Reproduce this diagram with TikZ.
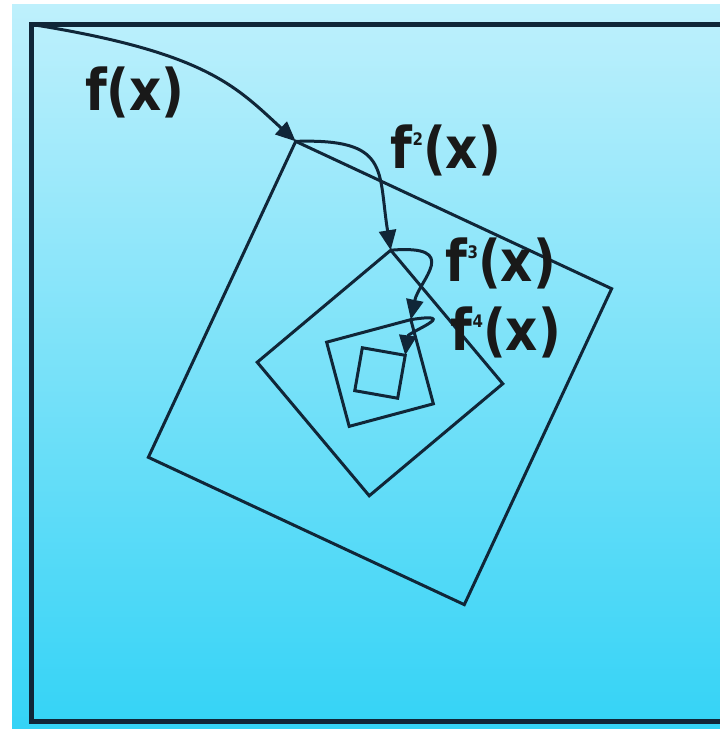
\documentclass[tikz,border=0pt]{standalone}
\usepackage{fontspec}
\setmainfont{DejaVu Sans}
\usetikzlibrary{arrows.meta}
\definecolor{tinta}{RGB}{16,38,56}
\definecolor{cielo}{RGB}{190,240,252}
\definecolor{mar}{RGB}{52,211,246}
\newcommand{\potencia}[1]{f\raisebox{20pt}{\fontsize{15}{15}\selectfont #1}(x)}

\begin{document}
\begin{tikzpicture}[x=1pt, y=1pt, >={Triangle[length=20pt,width=17pt]},
    linea/.style={draw=tinta, line width=3pt},
    flecha/.style={linea, ->},
    rotulo/.style={font=\fontsize{50}{50}\selectfont\bfseries, text=black!90, inner sep=0pt}]

    % 0. Fondo degradado
    \useasboundingbox (0,0) rectangle (720,729);
    \fill[white] (0,0) rectangle (720,729);
    \shade[top color=cielo, bottom color=mar] (12,0) rectangle (720,724);
    \clip (0,0) rectangle (720,729);

    % 1. Cuadrados contraidos (el marco es el cuadrado 0)
    \coordinate (c) at (380,356);
    \foreach \k in {0,...,4} {
        \pgfmathsetmacro{\ang}{135-25*\k}
        \pgfmathsetmacro{\rad}{493*0.5^\k}
        \pgfmathsetmacro{\grosor}{\k==0 ? 5 : 3}
        \coordinate (p\k) at ([shift={(c)}] \ang:\rad);
        \draw[linea, line width=\grosor pt, shift={(c)}]
            (\ang:\rad) -- ({\ang+90}:\rad) -- ({\ang+180}:\rad) -- ({\ang+270}:\rad) -- cycle;
    }

    % 2. Flechas de las iteraciones
    \draw[flecha] (p0) .. controls +(175,-28) and +(-60,55) .. (p1);
    \draw[flecha] (p1) .. controls +(95,3) and +(-13,80) .. (p2);
    \draw[flecha] (p2) .. controls +(72,6) and +(8,39) .. (p3);
    \draw[flecha] (p3) .. controls +(52,8) and +(3,23) .. (p4);

    % 3. Rotulos
    \node[rotulo] (r1) at (135,637) {\scalebox{1}[1.15]{f(x)}};
    \node[rotulo] (r2) at (446,579) {\scalebox{1}[1.15]{\potencia{2}}};
    \node[rotulo] (r3) at (501,466) {\scalebox{1}[1.15]{\potencia{3}}};
    \node[rotulo] (r4) at (506,397) {\scalebox{1}[1.15]{\potencia{4}}};

\end{tikzpicture}
\end{document}
